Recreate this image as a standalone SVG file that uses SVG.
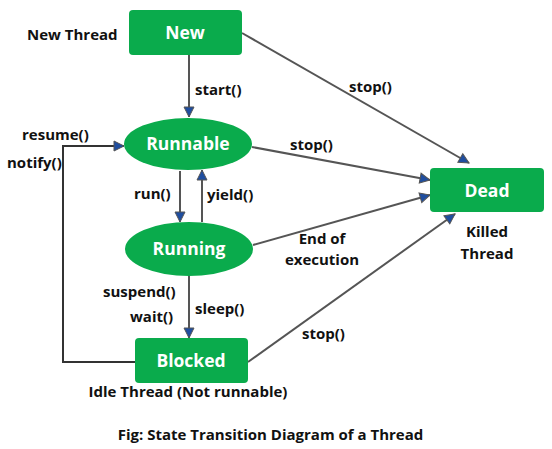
<svg xmlns="http://www.w3.org/2000/svg" width="552" height="449" viewBox="0 0 552 449">
<style>
.node{fill:#0aab4c}
.nt{font-family:"Open Sans","Liberation Sans",sans-serif;font-weight:bold;font-size:17.5px;fill:#ffffff;text-anchor:middle;dominant-baseline:central}
.lbl{font-family:"Open Sans","Liberation Sans",sans-serif;font-weight:bold;font-size:15px;fill:#111111}
.c{stroke:#555555;stroke-width:2;fill:none}
.loop{stroke:#333333;stroke-width:2;fill:none}
</style>
<defs>
<marker id="ah" viewBox="0 0 12 12" refX="11" refY="6" markerWidth="12" markerHeight="12" markerUnits="userSpaceOnUse" orient="auto">
<path d="M1,1 L11,6 L1,11 Z" fill="#1f4ea0" stroke="#555555" stroke-width="1"/>
</marker>
</defs>
<rect width="552" height="449" fill="#ffffff"/>
<g id="connectors">
<line class="c" x1="189" y1="55" x2="189" y2="117" marker-end="url(#ah)"/>
<line class="c" x1="180" y1="171" x2="180" y2="222" marker-end="url(#ah)"/>
<line class="c" x1="202" y1="222" x2="202" y2="170" marker-end="url(#ah)"/>
<line class="c" x1="189" y1="276" x2="189" y2="338" marker-end="url(#ah)"/>
<polyline class="loop" points="135,362 63,362 63,146 124,146" marker-end="url(#ah)"/>
<line class="c" x1="242" y1="33" x2="469" y2="163" marker-end="url(#ah)"/>
<line class="c" x1="252" y1="147" x2="430" y2="180" marker-end="url(#ah)"/>
<line class="c" x1="253" y1="245" x2="430" y2="195" marker-end="url(#ah)"/>
<line class="c" x1="248" y1="362" x2="455" y2="214" marker-end="url(#ah)"/>
<text class="lbl" x="195" y="95">start()</text>
<text class="lbl" x="349" y="92">stop()</text>
<text class="lbl" x="290" y="150">stop()</text>
<text class="lbl" x="22" y="140">resume()</text>
<text class="lbl" x="7" y="168">notify()</text>
<text class="lbl" x="134" y="199">run()</text>
<text class="lbl" x="207" y="200">yield()</text>
<text class="lbl" x="322" y="244" text-anchor="middle">End of</text>
<text class="lbl" x="322" y="265" text-anchor="middle">execution</text>
<text class="lbl" x="103" y="297">suspend()</text>
<text class="lbl" x="130" y="322">wait()</text>
<text class="lbl" x="195" y="314">sleep()</text>
<text class="lbl" x="302" y="339">stop()</text>
</g>
<g id="new">
<rect class="node" x="129" y="10" width="113" height="45" rx="4"/>
<text class="nt" x="185" y="32">New</text>
<text class="lbl" x="27" y="40">New Thread</text>
</g>
<g id="runnable">
<ellipse class="node" cx="188" cy="144" rx="64" ry="26"/>
<text class="nt" x="188" y="143">Runnable</text>
</g>
<g id="running">
<ellipse class="node" cx="189" cy="249" rx="64" ry="27"/>
<text class="nt" x="189" y="248">Running</text>
</g>
<g id="blocked">
<rect class="node" x="135" y="338" width="113" height="45" rx="4"/>
<text class="nt" x="191" y="360">Blocked</text>
<text class="lbl" x="188" y="397" text-anchor="middle">Idle Thread (Not runnable)</text>
</g>
<g id="dead">
<rect class="node" x="430" y="168" width="114" height="44" rx="4"/>
<text class="nt" x="487" y="190">Dead</text>
<text class="lbl" x="487" y="237" text-anchor="middle">Killed</text>
<text class="lbl" x="487" y="259" text-anchor="middle">Thread</text>
</g>
<text class="lbl" x="270.5" y="440" text-anchor="middle">Fig: State Transition Diagram of a Thread</text>
</svg>
